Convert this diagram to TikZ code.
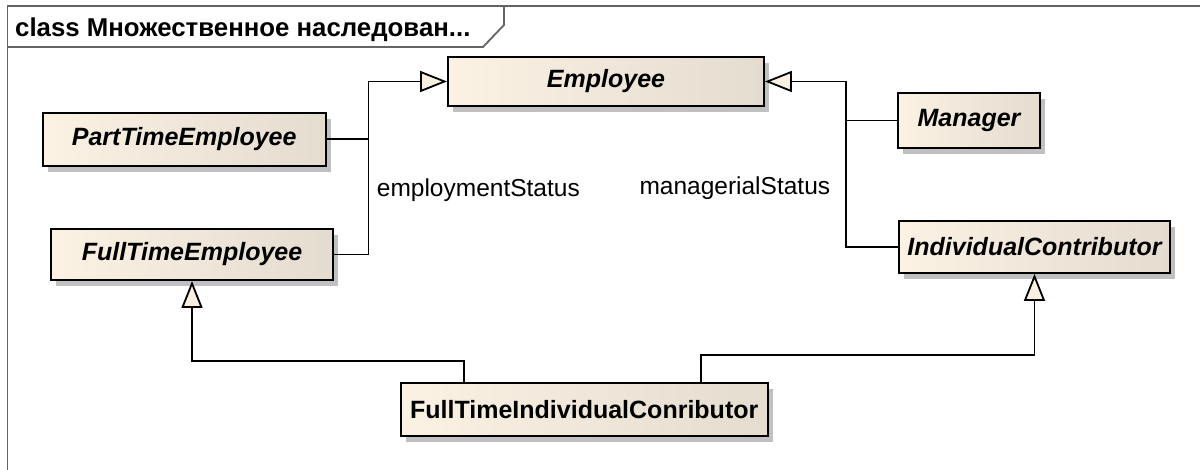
\documentclass[tikz,border=0pt]{standalone}
\usepackage{fontspec}
\setmainfont{Liberation Sans}
\usetikzlibrary{arrows.meta,shadows}
\definecolor{framegray}{RGB}{100,100,100}
\definecolor{fillL}{RGB}{251,242,228}
\definecolor{fillR}{RGB}{228,220,207}
\definecolor{tipfill}{RGB}{250,240,226}
\definecolor{shadowgray}{RGB}{192,192,192}
\begin{document}
\begin{tikzpicture}[x=1pt,y=-1pt,
  cls/.style={rectangle, draw=black, line width=1.9pt, left color=fillL, right color=fillR,
    inner sep=0pt, font=\fontsize{25}{30}\selectfont\bfseries\itshape,
    drop shadow={shadow xshift=5pt, shadow yshift=-6pt, fill=shadowgray, opacity=1}},
  conn/.style={line width=1.8pt, draw=black},
  gen/.style={conn, -{Triangle[length=27pt,width=21pt,fill=tipfill]}},
  lbl/.style={anchor=base west, inner sep=0pt, font=\fontsize{24.5}{29}\selectfont},
  framestyle/.style={draw=framegray, line width=1.8pt}]
\useasboundingbox (0,0) rectangle (1200,470);

% frame
\draw[framestyle] (7.5,470) -- (7.5,6) -- (1200,6);
\draw[framestyle] (7.5,47) -- (483,47) -- (504,25) -- (504,6);
\node[anchor=base west, inner sep=0pt, font=\fontsize{25.8}{30}\selectfont\bfseries] (title) at (15,37) {class Множественное наследован...};

% classes
\node[cls, minimum width=316pt, minimum height=49pt] (emp) at (606,81.5) {Employee};
\node[cls, minimum width=283pt, minimum height=53pt] (pt) at (184.2,139.2) {PartTimeEmployee};
\node[cls, minimum width=282.6pt, minimum height=51pt] (ft) at (192,254.5) {FullTimeEmployee};
\node[cls, minimum width=142pt, minimum height=55pt] (mgr) at (969,120.5) {Manager};
\node[cls, minimum width=271pt, minimum height=52pt] (ic) at (1034.5,247) {IndividualContributor};
\node[cls, font=\fontsize{25}{30}\selectfont\bfseries, minimum width=367pt, minimum height=53pt] (ftic) at (584.2,409.5) {FullTimeIndividualConributor};

% routing helpers
\coordinate (lx) at (368.5,0);
\coordinate (rx) at (846,0);
\coordinate (by1) at (0,361);
\coordinate (by2) at (0,355);

% connectors
\draw[conn] (pt.east) -- (pt.east -| lx);
\draw[gen] (ft.east) -- (ft.east -| lx) |- (emp.west);
\draw[conn] (mgr.west) -- (mgr.west -| rx);
\draw[gen] (ic.west) -- (ic.west -| rx) |- (emp.east);
\draw[gen] ([xshift=-120pt]ftic.north) |- (ft.south |- by1) -- (ft.south);
\draw[gen] ([xshift=116.5pt]ftic.north) |- (ic.south |- by2) -- (ic.south);

% labels
\node[lbl] (es) at (376.7,196.7) {employmentStatus};
\node[lbl] (ms) at (639.3,194.5) {managerialStatus};
\end{tikzpicture}
\end{document}
